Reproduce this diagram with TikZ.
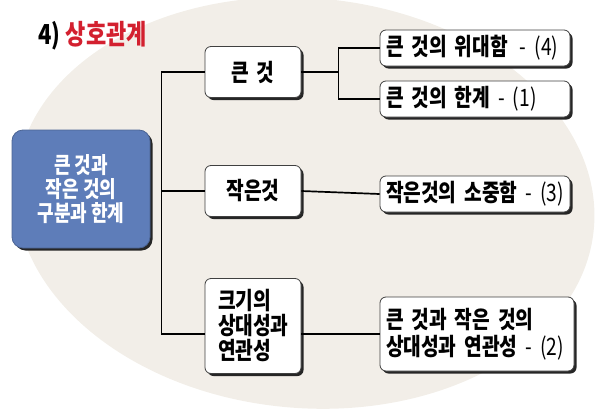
\documentclass[tikz,border=0pt]{standalone}
\usepackage{fontspec}
\newfontfamily\krfont{Noto Sans CJK KR}[FakeStretch=0.8]
\usetikzlibrary{shadows}
\definecolor{paper}{HTML}{F2EEE8}
\definecolor{coreblue}{HTML}{5E7DB9}
\definecolor{titlered}{HTML}{D3202F}
\newcommand{\refno}[1]{{\mdseries -~(#1)}}

\begin{document}
\begin{tikzpicture}[x=1pt,y=-1pt,card/.style={draw=black!75,line width=0.8pt,rounded corners=6pt,fill=white,inner sep=0pt,drop shadow={shadow xshift=2.5pt,shadow yshift=-2.5pt,opacity=1,fill=black!85},font=\krfont\bfseries\fontsize{24}{27}\selectfont},mid/.style={card,minimum width=96pt,minimum height=51pt,align=center,font=\krfont\bfseries\fontsize{24}{25}\selectfont},leaf/.style={card,minimum width=190pt,minimum height=36pt,text width=178pt,align=left},core/.style={draw=coreblue!80!black,line width=0.8pt,rounded corners=11pt,fill=coreblue,text=white,minimum width=138pt,minimum height=118pt,align=center,drop shadow={shadow xshift=2.5pt,shadow yshift=-2.5pt,opacity=1,fill=black!85},font=\krfont\bfseries\fontsize{22.5}{24}\selectfont},link/.style={line width=1.7pt,black}]
\useasboundingbox (0,0) rectangle (595,410);
\clip (0,0) rectangle (595,410);
\fill[paper, rotate around={-5:(305,203)}] (305,203) ellipse [x radius=290, y radius=205];
\node[anchor=west, font=\krfont\bfseries\fontsize{27.5}{30}\selectfont] (title) at (35,36) {4) \textcolor{titlered}{상호관계}};
\node[core] (core) at (81,189) {큰 것과\\작은 것의\\구분과 한계};
\node[mid] (big) at (253,72) {큰\hspace{3pt} 것};
\node[mid] (small) at (253,191) {작은것};
\node[mid, minimum height=95pt, text width=70pt, align=left] (rel) at (253,326) {크기의\\상대성과\\연관성};
\node[leaf] (great) at (475,48) {큰 것의 위대함~\,\refno{4}};
\node[leaf] (limit) at (475,99) {큰 것의 한계~\refno{1}};
\node[leaf] (precious) at (475,194) {작은것의 소중함~\refno{3}};
\node[leaf, minimum width=194pt, minimum height=74pt, text width=182pt] (both) at (477,334) {큰 것과 작은 것의\\상대성과~연관성~\refno{2}};
% trunk
\draw[link] (big.west) -- ++(-43,0) |- (rel.west |- both.west);
\draw[link] (small.west) -- ++(-43,0);
% branches
\draw[link] (big.east) -- ++(37,0) coordinate (fork) |- (great.west);
\draw[link] (fork) |- (limit.west);
\draw[link] (small.east) -- (precious.west);
\draw[link] (rel.east |- both.west) -- (both.west);
\end{tikzpicture}
\end{document}
